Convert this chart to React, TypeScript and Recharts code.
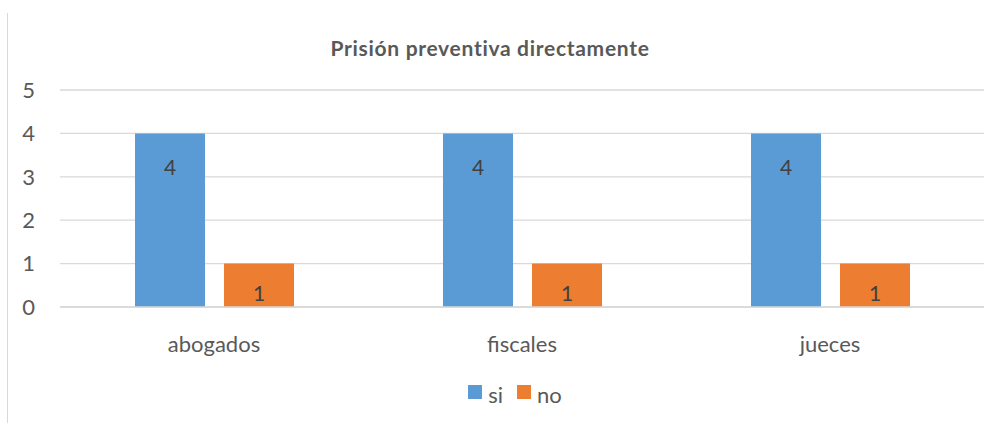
import { BarChart, Bar, XAxis, YAxis, CartesianGrid, LabelList } from "recharts";

const categories = ["abogados", "fiscales", "jueces"];
const siValues = [4, 4, 4];
const noValues = [1, 1, 1];
const yTicks = [0, 1, 2, 3, 4, 5];
const title = "Prisión preventiva directamente";

const series = [
  { key: "si", name: "si", color: "#5B9BD5" },
  { key: "no", name: "no", color: "#ED7D31" },
];

const data = categories.map((c, i) => ({ name: c, si: siValues[i], no: noValues[i] }));

const FONT = "Lato, 'Open Sans', sans-serif";

// Excel-style "inside end" label
const InsideLabel = (props: any) => {
  const { x, y, width, height, value } = props;
  const cy = y + Math.min(33, height - 15);
  return (
    <text
      x={x + width / 2}
      y={cy}
      textAnchor="middle"
      dominantBaseline="central"
      fill="#404040"
      fontSize={21}
      fontFamily={FONT}
    >
      {value}
    </text>
  );
};

const App = () => {
  return (
    <div style={{ position: "absolute", left: 0, top: 0, width: 1001, height: 423, background: "#fff", fontFamily: FONT }}>
      <div style={{ position: "absolute", left: 7, top: 13, width: 1, height: 410, background: "#d9d9d9" }} />
      <div
        style={{
          position: "absolute",
          top: 34,
          left: 0,
          width: 980,
          textAlign: "center",
          fontWeight: 700,
          fontSize: 21,
          letterSpacing: 0.7,
          lineHeight: "28px",
          color: "#595959",
        }}
      >
        {title}
      </div>
      <BarChart
        width={1001}
        height={423}
        data={data}
        margin={{ top: 90, right: 17, bottom: 86, left: 0 }}
        barCategoryGap="24%"
        barGap={19}
      >
        <CartesianGrid vertical={false} stroke="#d9d9d9" strokeWidth={1.3} />
        <XAxis
          dataKey="name"
          axisLine={{ stroke: "#d9d9d9", strokeWidth: 1.3 }}
          tickLine={false}
          tickSize={0}
          tickMargin={29}
          tick={{ fill: "#595959", fontSize: 22, fontFamily: FONT }}
        />
        <YAxis
          domain={[0, 5]}
          ticks={yTicks}
          width={60}
          axisLine={false}
          tickLine={false}
          tickSize={0}
          tickMargin={25}
          tick={{ fill: "#595959", fontSize: 22, fontFamily: FONT }}
        />
        {series.map((s) => (
          <Bar key={s.key} dataKey={s.key} name={s.name} fill={s.color} barSize={70} isAnimationActive={false}>
            <LabelList dataKey={s.key} content={InsideLabel} />
          </Bar>
        ))}
      </BarChart>
      <div
        style={{
          position: "absolute",
          top: 378,
          left: 0,
          width: 1030,
          height: 28,
          display: "flex",
          justifyContent: "center",
          alignItems: "center",
          gap: 14,
        }}
      >
        {series.map((s) => (
          <div key={s.key} style={{ display: "flex", alignItems: "center" }}>
            <span style={{ display: "inline-block", width: 14, height: 14, background: s.color, marginRight: 6 }} />
            <span style={{ fontSize: 22, color: "#595959", lineHeight: "28px", position: "relative", top: 3 }}>{s.name}</span>
          </div>
        ))}
      </div>
    </div>
  );
};

export default App;
